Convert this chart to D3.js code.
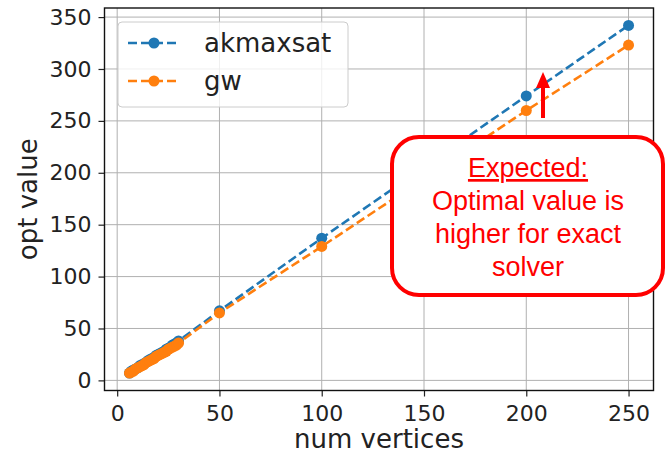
<!DOCTYPE html>
<meta charset="utf-8">
<script src="https://d3js.org/d3.v7.min.js"></script>
<style>
  body { margin: 0; background: #fff; }
</style>
<div id="chart"></div>
<script>

    // data
    const vertices = [6, 7, 8, 9, 10, 11, 12, 13, 14, 15, 16, 17, 18, 19, 20, 21, 22, 23, 24, 25, 26, 27, 28, 29, 30, 50, 100, 200, 250];
    const akmaxsat = [7, 9, 10, 11, 12, 14, 15, 16, 17, 19, 20, 21, 22, 24, 25, 26, 27, 28, 30, 31, 32, 34, 35, 36, 38, 67, 137, 274, 342];
    const gw = [7, 8, 9, 11, 12, 13, 14, 15, 17, 18, 19, 20, 21, 23, 24, 25, 26, 27, 28, 30, 31, 32, 33, 34, 36, 65, 129, 260, 323];
    const seriesNames = ["akmaxsat", "gw"];
    const xTicks = [0, 50, 100, 150, 200, 250];
    const yTicks = [0, 50, 100, 150, 200, 250, 300, 350];
    const noteLines = ["Expected:", "Optimal value is", "higher for exact", "solver"];

    const width = 666;
    const height = 456;
    const marginTop = 8;
    const marginRight = 12.5;
    const marginBottom = 65.5;
    const marginLeft = 104.5;

    const colors = ["#1f77b4", "#ff7f0e"];

    const svg = d3.select("#chart")
        .append("svg")
        .attr("width", width)
        .attr("height", height)
        .attr("viewBox", [0, 0, width, height])
        .style("font-family", "'DejaVu Sans', sans-serif");

    // matplotlib style 5% padding on both axes
    const xExt = d3.extent(vertices);
    const xPad = (xExt[1] - xExt[0]) * 0.05;
    const yExt = d3.extent(akmaxsat.concat(gw));
    const yPad = (yExt[1] - yExt[0]) * 0.05;

    const x = d3.scaleLinear()
        .domain([xExt[0] - xPad, xExt[1] + xPad])
        .range([marginLeft, width - marginRight]);

    const y = d3.scaleLinear()
        .domain([yExt[0] - yPad, yExt[1] + yPad])
        .range([height - marginBottom, marginTop]);

    // grid
    svg.append("g")
        .attr("stroke", "#b0b0b0")
        .attr("stroke-width", 1)
        .call(g => g.selectAll(".vx").data(xTicks).join("line")
            .attr("x1", d => x(d)).attr("x2", d => x(d))
            .attr("y1", marginTop).attr("y2", height - marginBottom))
        .call(g => g.selectAll(".hy").data(yTicks).join("line")
            .attr("x1", marginLeft).attr("x2", width - marginRight)
            .attr("y1", d => y(d)).attr("y2", d => y(d)));

    // axes
    svg.append("g")
        .attr("transform", `translate(0,${height - marginBottom})`)
        .call(d3.axisBottom(x).tickValues(xTicks).tickSize(6).tickPadding(9).tickSizeOuter(0))
        .call(g => g.select(".domain").remove())
        .call(g => g.selectAll("text").attr("font-size", 22).attr("fill", "#222").attr("font-family", "'DejaVu Sans', sans-serif"))
        .call(g => g.selectAll("line").attr("stroke", "#222").attr("stroke-width", 1.2));

    svg.append("g")
        .attr("transform", `translate(${marginLeft},0)`)
        .call(d3.axisLeft(y).tickValues(yTicks).tickSize(6).tickPadding(7).tickSizeOuter(0))
        .call(g => g.select(".domain").remove())
        .call(g => g.selectAll("text").attr("font-size", 22).attr("fill", "#222").attr("font-family", "'DejaVu Sans', sans-serif"))
        .call(g => g.selectAll("line").attr("stroke", "#222").attr("stroke-width", 1.2));

    // lines and markers
    const line = d3.line()
        .x(d => x(d[0]))
        .y(d => y(d[1]));

    [akmaxsat, gw].forEach(function (vals, i) {
        const pts = vertices.map((v, j) => [v, vals[j]]);
        const g = svg.append("g");
        g.append("path")
            .datum(pts)
            .attr("fill", "none")
            .attr("stroke", colors[i])
            .attr("stroke-width", 2.6)
            .attr("stroke-dasharray", "9,4")
            .attr("d", line);
        g.selectAll("circle")
            .data(pts)
            .join("circle")
            .attr("cx", d => x(d[0]))
            .attr("cy", d => y(d[1]))
            .attr("r", 5.5)
            .attr("fill", colors[i]);
    });

    // frame
    svg.append("rect")
        .attr("x", marginLeft)
        .attr("y", marginTop)
        .attr("width", width - marginLeft - marginRight)
        .attr("height", height - marginTop - marginBottom)
        .attr("fill", "none")
        .attr("stroke", "#111")
        .attr("stroke-width", 1.4);

    // axis labels
    svg.append("text")
        .attr("x", (marginLeft + width - marginRight) / 2)
        .attr("y", 448)
        .attr("text-anchor", "middle")
        .attr("font-size", 26)
        .attr("fill", "#222")
        .text("num vertices");

    svg.append("text")
        .attr("transform", `translate(37,${(marginTop + height - marginBottom) / 2}) rotate(-90)`)
        .attr("text-anchor", "middle")
        .attr("font-size", 26)
        .attr("fill", "#222")
        .text("opt value");

    // legend
    const legend = svg.append("g");
    legend.append("rect")
        .attr("x", 118).attr("y", 22)
        .attr("width", 230).attr("height", 85)
        .attr("rx", 4)
        .attr("fill", "#fff").attr("fill-opacity", 0.8)
        .attr("stroke", "#ccc");
    seriesNames.forEach(function (name, i) {
        const ly = 43 + i * 38;
        legend.append("line")
            .attr("x1", 128).attr("x2", 180)
            .attr("y1", ly).attr("y2", ly)
            .attr("stroke", colors[i])
            .attr("stroke-width", 2.6)
            .attr("stroke-dasharray", "9,4");
        legend.append("circle")
            .attr("cx", 154).attr("cy", ly).attr("r", 5.5)
            .attr("fill", colors[i]);
        legend.append("text")
            .attr("x", 204).attr("y", ly + 9)
            .attr("font-size", 26)
            .attr("fill", "#222")
            .text(name);
    });

    // annotation
    svg.append("line")
        .attr("x1", 543).attr("x2", 543)
        .attr("y1", 118).attr("y2", 86)
        .attr("stroke", "#ff0000")
        .attr("stroke-width", 4);
    svg.append("path")
        .attr("d", "M536,88 L543,72 L550,88 Z")
        .attr("fill", "#ff0000");

    svg.append("rect")
        .attr("x", 392).attr("y", 137)
        .attr("width", 271).attr("height", 158)
        .attr("rx", 27)
        .attr("fill", "#fff")
        .attr("stroke", "#ff0000")
        .attr("stroke-width", 4);

    const note = svg.append("text")
        .attr("text-anchor", "middle")
        .attr("font-family", "'Liberation Sans', Arial, sans-serif")
        .attr("font-size", 27)
        .attr("fill", "#ff0000");
    noteLines.forEach(function (t, i) {
        note.append("tspan")
            .attr("x", 528)
            .attr("y", 177 + i * 33)
            .attr("text-decoration", i === 0 ? "underline" : null)
            .text(t);
    });

</script>
